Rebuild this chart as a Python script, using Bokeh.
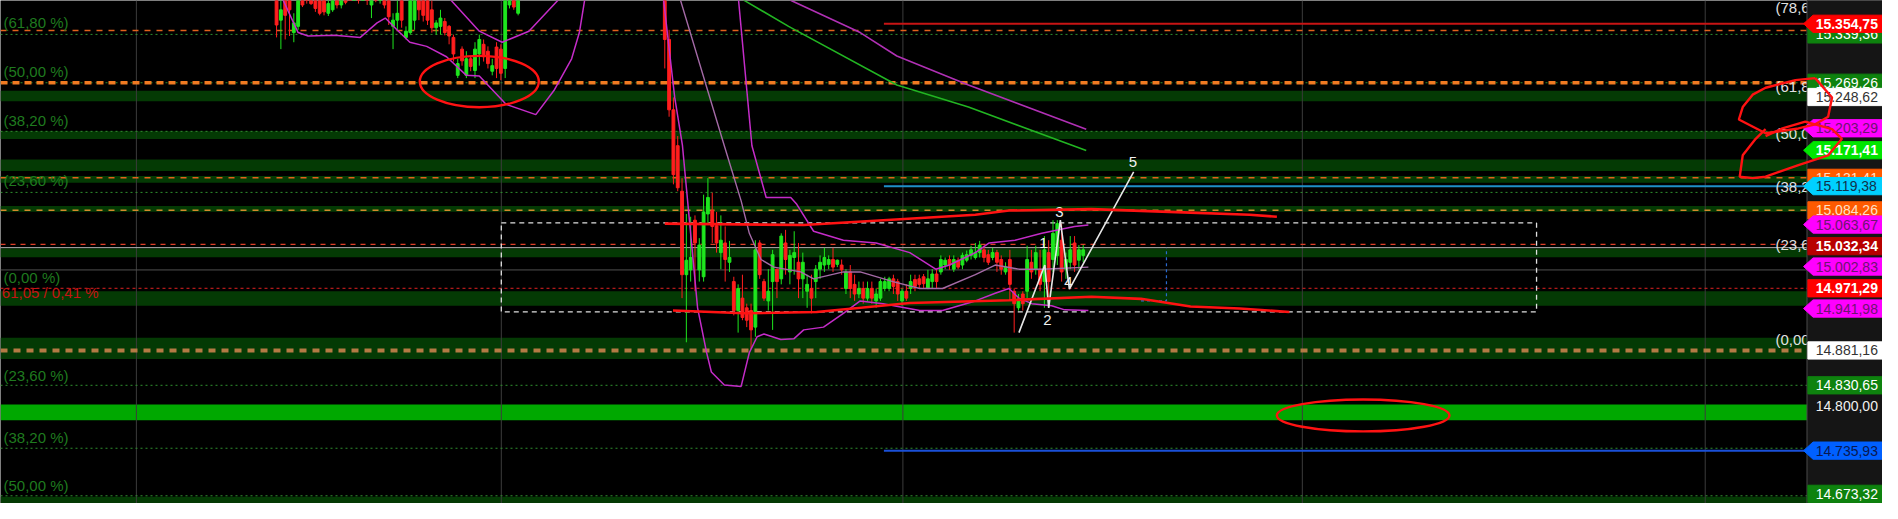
from bokeh.plotting import figure
from bokeh.models import ColumnDataSource
from bokeh.core.properties import value
from bokeh.embed import file_html
from bokeh.resources import INLINE
import numpy as np

FONT = "Liberation Sans"

# ---------------- visible window (bar index / price) ----------------
X_LO, X_HI = -157.0, 279.3
Y_LO, Y_HI = 14659.3, 15388.5
PANEL_X = 261.8          # start of the price panel
LEVEL_START = 47.8       # start bar of the long horizontal levels

# ---------------- candles ----------------
bar_a = list(range(-93, -36))
open_a = [15431, 15360, 15403, 15410, 15342, 15351, 15417, 15424, 15410, 15403, 15396, 15389, 15370, 15375,
          15403, 15382, 15405, 15417, 15400, 15417, 15396, 15410, 15382, 15417, 15391, 15410, 15403, 15351,
          15360, 15403, 15335, 15342, 15360, 15403, 15396, 15389, 15375, 15349, 15351, 15358, 15351, 15335,
          15280, 15318, 15280, 15304, 15287, 15311, 15325, 15315, 15286, 15321, 15318, 15290, 15382, 15403, 15370]
close_a = [15353, 15375, 15367, 15375, 15356, 15403, 15382, 15396, 15384, 15377, 15370, 15372, 15384, 15396,
           15382, 15400, 15386, 15396, 15424, 15391, 15417, 15389, 15410, 15393, 15417, 15382, 15365, 15360,
           15370, 15360, 15344, 15410, 15403, 15375, 15367, 15360, 15349, 15356, 15363, 15342, 15337, 15311,
           15297, 15301, 15304, 15293, 15318, 15332, 15307, 15297, 15294, 15290, 15283, 15403, 15410, 15379, 15403]
high_a = [15445, 15396, 15417, 15424, 15370, 15417, 15431, 15438, 15424, 15417, 15410, 15403, 15396, 15410,
          15417, 15410, 15417, 15431, 15438, 15431, 15428, 15424, 15424, 15431, 15431, 15424, 15417, 15370,
          15396, 15417, 15351, 15424, 15417, 15417, 15410, 15403, 15389, 15360, 15375, 15363, 15353, 15339,
          15304, 15322, 15315, 15308, 15328, 15339, 15332, 15322, 15304, 15328, 15325, 15417, 15424, 15417, 15417]
low_a = [15335, 15318, 15332, 15337, 15328, 15346, 15379, 15384, 15382, 15372, 15367, 15367, 15366, 15372,
         15377, 15377, 15383, 15391, 15393, 15384, 15389, 15382, 15363, 15386, 15384, 15377, 15353, 15318,
         15346, 15349, 15332, 15339, 15346, 15360, 15358, 15353, 15342, 15339, 15339, 15338, 15325, 15300,
         15276, 15294, 15276, 15286, 15276, 15294, 15300, 15290, 15280, 15276, 15273, 15276, 15377, 15375, 15367]

bar_d = [-3, -2, -1]
open_d = [15473, 15332, 15230]
high_d = [15487, 15346, 15248]
low_d = [15290, 15220, 15122]
close_d = [15332, 15230, 15136]

bar_b = list(range(0, 95))
open_b = [15178, 15112, 14991, 14998, 15070, 14998, 14988, 15079, 15084, 15062, 15023, 15037, 15009, 14981,
          14939, 14957, 14943, 14939, 14915, 15037, 14981, 14953, 14981, 14999, 14985, 15037, 14995, 15016,
          15009, 14985,
          14967, 14971, 14981, 14999, 15005, 15006, 15013, 15006, 15005, 14971, 14995, 14977, 14963, 14971,
          14957, 14971, 14953, 14957, 14971, 14971, 14985, 14981, 14953, 14967, 14971, 14984, 14985, 14988,
          14971, 14981, 14992, 14995, 15005, 15013, 14999, 15012, 15005, 15012, 15019, 15016, 15023, 15027,
          15020,
          15016, 15023, 15013, 14995, 15013, 14967, 14943, 14963, 14967, 15009, 14999, 14999, 14981, 15023,
          15013, 15019, 15041, 14999, 15009, 15037, 15012, 15019]
close_b = [15117, 14991, 15012, 15016, 15037, 15034, 15082, 15103, 15061, 15037, 15041, 15013, 15016, 14939,
           14971, 14929, 14925, 14911, 15027, 14991, 14957, 14967, 15020, 14981, 15047, 15013, 15019, 15023,
           14985, 15009,
           14977, 14957, 14999, 15009, 15016, 15013, 15002, 15012, 14998, 14995, 14971, 14963, 14971, 14957,
           14971, 14957, 14963, 14981, 14981, 14985, 14974, 14963, 14967, 14957, 14981, 14974, 14977, 14978,
           14985, 14992, 14981, 15013, 15012, 15005, 15013, 15002, 15019, 15020, 15027, 15023, 15034, 15016,
           15009,
           15023, 15009, 14999, 15002, 14977, 14949, 14956, 14949, 15013, 14995, 15023, 14977, 15027, 14981,
           15051, 15065, 14995, 15013, 15027, 15005, 15027, 15027]
high_b = [15192, 15131, 15079, 15075, 15077, 15044, 15107, 15131, 15110, 15082, 15077, 15061, 15040, 14988,
          14977, 14991, 14949, 14949, 15041, 15041, 14985, 14999, 15027, 14999, 15051, 15056, 15027, 15054,
          15037, 15023,
          14991, 14991, 15005, 15019, 15030, 15019, 15030, 15013, 15013, 14999, 15005, 14991, 14981, 14981,
          14981, 14981, 14971, 14985, 14988, 14988, 14991, 14985, 14971, 14977, 14991, 14991, 14991, 14992,
          14998, 14999, 14999, 15019, 15016, 15019, 15019, 15016, 15023, 15026, 15033, 15037, 15040, 15033,
          15027,
          15030, 15027, 15019, 15009, 15027, 14971, 14963, 14967, 15033, 15027, 15033, 15027, 15047, 15041,
          15070, 15070, 15065, 15023, 15047, 15047, 15034, 15034]
low_b = [15112, 14957, 14893, 14981, 14967, 14981, 14981, 15065, 15037, 15023, 14999, 14981, 14995, 14932,
         14907, 14925, 14915, 14883, 14901, 14985, 14953, 14939, 14911, 14957, 14977, 14991, 14977, 14991,
         14957, 14957,
         14943, 14935, 14957, 14985, 14995, 14999, 14995, 15002, 14991, 14963, 14957, 14953, 14957, 14949,
         14953, 14949, 14943, 14953, 14967, 14967, 14963, 14953, 14946, 14953, 14963, 14967, 14971, 14971,
         14970, 14971, 14971, 14991, 14999, 14998, 14995, 14999, 14999, 15009, 15013, 15013, 15016, 15009,
         15005,
         15012, 14995, 14991, 14991, 14953, 14907, 14939, 14939, 14957, 14985, 14991, 14967, 14943, 14943,
         14995, 15005, 14981, 14985, 14999, 14995, 14999, 15009]

# ---------------- indicators ----------------
bb_low_a_x = [-92.0, -88.0, -85.7, -79.5, -73.6, -69.7, -67.8, -65.1, -62.1, -58.2, -53.6, -49.0, -46.0,
              -39.8, -32.9, -28.7, -24.6, -22.8, -21.4]
bb_low_a_y = [15396, 15342, 15337, 15338, 15335, 15356, 15363, 15346, 15328, 15322, 15307, 15280, 15279,
              15238, 15223, 15258, 15304, 15342, 15396]
bb_up_a_x = [-53.6, -46.0, -40.7, -34.5, -26.7]
bb_up_a_y = [15396, 15344, 15328, 15344, 15396]

bb_low_b_x = [-3.4, -0.7, 1.1, 4.6, 6.7, 7.8, 10.8, 14.7, 16.6, 18.4, 20.0, 23.9, 26.9, 29.2, 33.8, 38.4,
              42.3, 47.6, 56.1, 61.4, 69.0, 73.6, 76.8, 79.1, 82.1, 86.7, 89.7, 95.2]
bb_low_b_y = [15396, 15248, 15178, 14943, 14878, 14850, 14831, 14829, 14878, 14901, 14905, 14897, 14898,
              14911, 14915, 14935, 14953, 14949, 14939, 14939, 14953, 14964, 14971, 14957, 14949, 14946,
              14940, 14939]
bb_mid_b_x = [0.3, 10.8, 14.7, 16.6, 19.3, 22.3, 28.5, 31.5, 38.4, 42.3, 49.9, 56.1, 61.4, 69.0, 73.6,
              79.1, 84.4, 95.2]
bb_mid_b_y = [15396, 15178, 15098, 15051, 15013, 15002, 14995, 14985, 14995, 14995, 14981, 14971, 14971,
              14991, 15005, 14999, 14999, 15002]
bb_up_b_x = [14.0, 17.2, 20.5, 26.2, 27.6, 31.5, 38.4, 46.0, 53.8, 59.8, 63.0, 69.0, 72.2, 78.2, 84.4,
             92.0, 95.2]
bb_up_b_y = [15396, 15178, 15103, 15103, 15093, 15054, 15041, 15037, 15023, 14999, 15005, 15023, 15037,
             15041, 15051, 15061, 15063]

ma_green_x = [14.3, 15.6, 25.7, 50.8, 67.4, 94.7]
ma_green_y = [15396, 15388, 15351, 15266, 15234, 15171]
ma_purple_x = [25.1, 26.4, 42.3, 50.8, 67.4, 94.7]
ma_purple_y = [15396, 15388, 15342, 15308, 15266, 15202]

# Elliott wave count
wave_x = [79.1, 85.1, 86.0, 88.7, 90.8, 105.7]
wave_y = [14907, 15005, 14943, 15070, 14970, 15140]
wave_lbl_x = [84.8, 85.7, 88.5, 90.6, 105.5]
wave_lbl_y = [15037, 14925, 15082, 14981, 15154]
wave_lbl = ["1", "2", "3", "4", "5"]

# hand-drawn channel / marks
chan_up_x = [-3.0, 29.2, 69.0, 76.8, 95.9, 118.9, 132.6, 138.9]
chan_up_y = [15065, 15063, 15078, 15084, 15086, 15081, 15078, 15075]
chan_lo_x = [-1.1, 15.4, 32.2, 53.8, 76.8, 95.9, 107.4, 118.9, 130.3, 141.8]
chan_lo_y = [14939, 14935, 14937, 14950, 14954, 14959, 14956, 14945, 14942, 14937]
circle_x = [-46.0, 158.9]
circle_y = [15271, 14787]
circle_w = [27.6, 40.0]
circle_h = [74.5, 46.4]
loop1_x = [263.7, 267.6, 266.7, 263.7, 259.8, 252.2, 246.0, 246.9, 249.2, 252.2, 259.1, 263.7]
loop1_y = [15276, 15248, 15220, 15209, 15203, 15196, 15216, 15234, 15252, 15262, 15273, 15276]
loop2_x = [252.2, 249.9, 246.9, 246.2, 249.2, 252.2, 259.8, 266.7, 269.9, 267.6, 261.4, 256.1, 252.2]
loop2_y = [15202, 15188, 15164, 15133, 15131, 15133, 15150, 15164, 15188, 15202, 15213, 15203, 15192]

# range box
box_left, box_right, box_top, box_bottom = -40.9, 199.1, 15066, 14937
blue_mark_x = [107.4, 113.3, 113.3]
blue_mark_y = [14953, 14953, 15030]

# zones and levels
band_top = [15257.8, 15198.8, 15158.1, 15134.2, 15090.6, 15028.8, 14967.0, 14899.6, 14669.1]
band_bottom = [15242.4, 15187.6, 15141.2, 15124.4, 15082.2, 15016.2, 14945.9, 14868.7, 14650.0]
zone_top, zone_bottom = 14803, 14780

level_price = [15345.0, 15339.36, 15269.26, 15269.26, 15198.8, 15131.4, 15110.3, 15084.26, 15035.0,
               15030.2, 14997.9, 14971.29, 14881.16, 14830.65, 14739.4, 14670.5]
level_kind = ["orange", "dot", "dot", "thick", "dot", "orange", "dot", "amber", "reddash",
              "light", "grey", "price", "brown", "dot", "dot", "dot"]
long_price = [15354.75, 15119.38, 14735.93]
long_kind = ["red", "cyan", "blue"]

vgrid_x = [-125.5, -40.9, 52.2, 144.8, 238.2]

left_fib_text = ["(61,80 %)", "(50,00 %)", "(38,20 %)", "(23,60 %)", "(0,00 %)", "(23,60 %)",
                 "(38,20 %)", "(50,00 %)"]
left_fib_y = [15356.2, 15286.0, 15214.3, 15127.2, 14986.7, 14844.8, 14754.8, 14686.0]
change_text = "61,05 / 0,41 %"
change_y = 14965.6

right_fib_text = ["(78,60 %)", "(61,80 %)", "(50,00 %)", "(38,20 %)", "(23,60 %)", "(0,00 %)"]
right_fib_y = [15378.7, 15263.5, 15196.0, 15118.7, 15034.4, 14896.8]

tag_price = [15339.36, 15269.26, 15354.75, 15248.62, 15203.29, 15171.41, 15131.41, 15119.38, 15084.26,
             15063.67, 15032.34, 15002.83, 14971.29, 14941.98, 14881.16, 14830.65, 14800.00, 14735.93,
             14673.32]
tag_text = ["15.339,36", "15.269,26", "15.354,75", "15.248,62", "15.203,29", "15.171,41", "15.131,41",
            "15.119,38", "15.084,26", "15.063,67", "15.032,34", "15.002,83", "14.971,29", "14.941,98",
            "14.881,16", "14.830,65", "14.800,00", "14.735,93", "14.673,32"]
tag_style = ["green", "green", "red_arrow", "white", "magenta", "lime", "orange", "cyan", "orange",
             "magenta", "darkred", "magenta", "red", "magenta", "white", "green", "plain", "blue", "green"]

# ---------------- styles ----------------
LEVEL_STYLE = {
    "orange": ("#e2621c", "6 6", 1.5),
    "amber": ("#d48a2c", "6 6", 1.5),
    "dot": ("#2f8f2f", "2 3", 1.0),
    "thick": ("#f07a22", "7 5", 3.5),
    "brown": ("#b47a44", "7 6", 4.0),
    "reddash": ("#e04028", "5 5", 1.2),
    "price": ("#e02020", "3 3", 1.0),
    "light": ("#b4b4b4", "solid", 1.0),
    "grey": ("#505050", "solid", 1.0),
}
LONG_STYLE = {"red": ("#c81414", 2.0), "cyan": ("#1e90c8", 2.0), "blue": ("#1a50d8", 2.0)}
TAG_STYLE = {  # fill, text colour, bold, arrow
    "green": ("#0e820e", "#ffffff", False, False),
    "red_arrow": ("#ff0000", "#ffffff", True, True),
    "white": ("#ffffff", "#333333", False, False),
    "magenta": ("#ff00ff", "#6e1470", False, True),
    "lime": ("#00e600", "#ffffff", True, True),
    "orange": ("#ff5a00", "#ffe0c8", False, False),
    "cyan": ("#00d0ff", "#10304a", False, True),
    "darkred": ("#b80000", "#ffffff", True, False),
    "red": ("#ff0000", "#ffffff", True, False),
    "plain": (None, "#f0f0f0", False, False),
    "blue": ("#0060ff", "#0a1850", False, True),
}

# ---------------- figure ----------------
p = figure(width=1882, height=503, x_range=(X_LO, X_HI), y_range=(Y_LO, Y_HI),
           output_backend="svg", toolbar_location=None, x_axis_location=None, y_axis_location=None,
           background_fill_color="#000000", border_fill_color="#000000", outline_line_color=None,
           min_border=0)
p.grid.visible = False

# zones
p.quad(left=X_LO, right=PANEL_X, top=band_top, bottom=band_bottom, fill_color="#043a04", line_color=None)
p.quad(left=X_LO, right=PANEL_X, top=zone_top, bottom=zone_bottom, fill_color="#00a800", line_color=None)

# vertical grid
p.segment(x0=vgrid_x, y0=Y_LO, x1=vgrid_x, y1=Y_HI, line_color="#3c3c3c", line_width=1)

# horizontal levels
for price, kind in zip(level_price, level_kind):
    col, dash, w = LEVEL_STYLE[kind]
    p.line(x=[X_LO, PANEL_X], y=[price, price], line_color=col, line_dash=dash, line_width=w)
for price, kind in zip(long_price, long_kind):
    col, w = LONG_STYLE[kind]
    p.line(x=[LEVEL_START, PANEL_X], y=[price, price], line_color=col, line_width=w)

# range box
p.quad(left=box_left, right=box_right, top=box_top, bottom=box_bottom, fill_color=None,
       line_color="#e0e0e0", line_dash="5 4", line_width=1.3)
p.line(x=blue_mark_x, y=blue_mark_y, line_color="#2a6ad0", line_dash="3 3", line_width=1.2)

# candles
bars = np.array(bar_a + bar_d + bar_b, dtype=float)
o = np.array(open_a + open_d + open_b, dtype=float)
h = np.array(high_a + high_d + high_b, dtype=float)
l = np.array(low_a + low_d + low_b, dtype=float)
c = np.array(close_a + close_d + close_b, dtype=float)
up = c >= o
colors = np.where(up, "#1ee61e", "#ff1e1e")
src = ColumnDataSource(dict(x=bars, o=o, h=h, l=l, c=c, top=np.maximum(o, c),
                            bottom=np.minimum(o, c), color=colors))
p.segment(x0="x", y0="l", x1="x", y1="h", line_color="color", line_width=1, source=src)
p.vbar(x="x", width=0.65, top="top", bottom="bottom", fill_color="color", line_color="color",
       line_width=1, source=src)

# bollinger bands and averages
for xs, ys in [(bb_low_a_x, bb_low_a_y), (bb_up_a_x, bb_up_a_y), (bb_low_b_x, bb_low_b_y),
               (bb_up_b_x, bb_up_b_y)]:
    p.line(x=xs, y=ys, line_color="#c42cc8", line_width=1.5)
p.line(x=bb_mid_b_x, y=bb_mid_b_y, line_color="#a46aa6", line_width=1.4)
p.line(x=ma_green_x, y=ma_green_y, line_color="#22b422", line_width=1.6)
p.line(x=ma_purple_x, y=ma_purple_y, line_color="#b030b4", line_width=1.6)

# wave count
p.line(x=wave_x, y=wave_y, line_color="#e6e6e6", line_width=1.6)
p.text(x=wave_lbl_x, y=wave_lbl_y, text=wave_lbl, text_color="#f0f0f0", text_font=value(FONT),
       text_font_size="15px", text_align="center", text_baseline="middle")

# hand drawn marks
p.line(x=chan_up_x, y=chan_up_y, line_color="#ff1212", line_width=2.6)
p.line(x=chan_lo_x, y=chan_lo_y, line_color="#ff1212", line_width=2.6)
p.ellipse(x=circle_x, y=circle_y, width=circle_w, height=circle_h, fill_color=None,
          line_color="#ff1212", line_width=2.4)

# left fib labels
p.text(x=X_LO + 0.7, y=left_fib_y, text=left_fib_text, text_color="#1f7a1f", text_font=value(FONT),
       text_font_size="15px", text_align="left", text_baseline="middle")
p.text(x=[X_LO + 0.3], y=[change_y], text=[change_text], text_color="#c41414", text_font=value(FONT),
       text_font_size="15px", text_align="left", text_baseline="middle")

# right fib labels
p.text(x=254.5, y=right_fib_y, text=right_fib_text, text_color="#e0e0e0", text_font=value(FONT),
       text_font_size="15px", text_align="left", text_baseline="middle")

# price panel
p.quad(left=PANEL_X, right=X_HI + 2, top=Y_HI + 20, bottom=Y_LO - 20, fill_color="#151515", line_color=None)
p.line(x=[PANEL_X, PANEL_X], y=[Y_LO, Y_HI], line_color="#4a4a4a", line_width=1)

HH = 12.5
for price, txt, sty in zip(tag_price, tag_text, tag_style):
    fill, tcol, bold, arrow = TAG_STYLE[sty]
    if fill is not None:
        if arrow:
            p.patch(x=[PANEL_X - 0.8, PANEL_X + 1.4, X_HI + 2, X_HI + 2, PANEL_X + 1.4],
                    y=[price, price + HH, price + HH, price - HH, price - HH],
                    fill_color=fill, line_color=fill)
        else:
            p.quad(left=PANEL_X + 0.2, right=X_HI + 2, top=price + HH, bottom=price - HH,
                   fill_color=fill, line_color=fill)
    p.text(x=[PANEL_X + 2.0], y=[price], text=[txt], text_color=tcol, text_font=value(FONT),
           text_font_size="14px", text_font_style="bold" if bold else "normal",
           text_align="left", text_baseline="middle")

# scribbles over the panel
p.line(x=loop1_x, y=loop1_y, line_color="#ff1212", line_width=2.4)
p.line(x=loop2_x, y=loop2_y, line_color="#ff1212", line_width=2.4)

open("out.html", "w").write(file_html(p, INLINE))
